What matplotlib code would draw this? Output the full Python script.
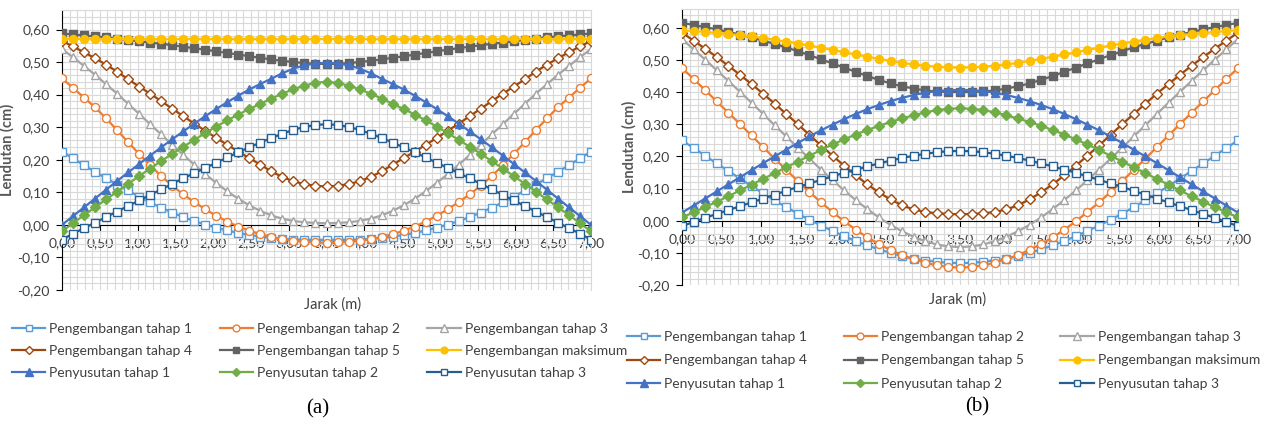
import numpy as np
import matplotlib
matplotlib.use('Agg')
import matplotlib.pyplot as plt
from matplotlib.ticker import MultipleLocator, FuncFormatter

# stations along the beam (m)
jarak = np.linspace(0, 7, 49)

labels = ['Pengembangan tahap 1', 'Pengembangan tahap 2', 'Pengembangan tahap 3',
          'Pengembangan tahap 4', 'Pengembangan tahap 5', 'Pengembangan maksimum',
          'Penyusutan tahap 1', 'Penyusutan tahap 2', 'Penyusutan tahap 3']

# ---- panel (a) deflections (cm)
a_p1 = [0.225, 0.204, 0.183, 0.163, 0.143, 0.124, 0.106, 0.086, 0.069, 0.053, 0.038, 0.024, 0.012, 0.001, -0.009, -0.017, -0.025, -0.031, -0.036, -0.040, -0.043, -0.045, -0.046, -0.047, -0.047,
        -0.047, -0.046, -0.045, -0.043, -0.040, -0.036, -0.031, -0.025, -0.017, -0.009, 0.001, 0.012, 0.024, 0.038, 0.053, 0.069, 0.086, 0.106, 0.124, 0.143, 0.163, 0.183, 0.204, 0.225]
a_p2 = [0.450, 0.421, 0.391, 0.361, 0.327, 0.291, 0.254, 0.218, 0.183, 0.150, 0.120, 0.094, 0.070, 0.048, 0.028, 0.010, -0.005, -0.018, -0.029, -0.037, -0.044, -0.049, -0.052, -0.054, -0.055,
        -0.054, -0.052, -0.049, -0.044, -0.037, -0.029, -0.018, -0.005, 0.010, 0.028, 0.048, 0.070, 0.094, 0.120, 0.150, 0.183, 0.218, 0.254, 0.291, 0.327, 0.361, 0.391, 0.421, 0.450]
a_p3 = [0.540, 0.515, 0.488, 0.461, 0.432, 0.403, 0.372, 0.341, 0.309, 0.278, 0.246, 0.215, 0.185, 0.156, 0.129, 0.103, 0.080, 0.060, 0.043, 0.029, 0.019, 0.012, 0.008, 0.006, 0.005,
        0.006, 0.008, 0.012, 0.019, 0.029, 0.043, 0.060, 0.080, 0.103, 0.129, 0.156, 0.185, 0.215, 0.246, 0.278, 0.309, 0.341, 0.372, 0.403, 0.432, 0.461, 0.488, 0.515, 0.540]
a_p4 = [0.565, 0.548, 0.530, 0.512, 0.492, 0.471, 0.447, 0.425, 0.403, 0.380, 0.357, 0.334, 0.311, 0.289, 0.267, 0.246, 0.225, 0.205, 0.185, 0.164, 0.147, 0.134, 0.125, 0.120, 0.118,
        0.120, 0.125, 0.134, 0.147, 0.164, 0.185, 0.205, 0.225, 0.246, 0.267, 0.289, 0.311, 0.334, 0.357, 0.380, 0.403, 0.425, 0.447, 0.471, 0.492, 0.512, 0.530, 0.548, 0.565]
a_p5 = [0.588, 0.585, 0.582, 0.579, 0.576, 0.572, 0.568, 0.564, 0.560, 0.556, 0.552, 0.547, 0.543, 0.538, 0.533, 0.528, 0.523, 0.518, 0.513, 0.508, 0.504, 0.500, 0.497, 0.495, 0.494,
        0.495, 0.497, 0.500, 0.504, 0.508, 0.513, 0.518, 0.523, 0.528, 0.533, 0.538, 0.543, 0.547, 0.552, 0.556, 0.560, 0.564, 0.568, 0.572, 0.576, 0.579, 0.582, 0.585, 0.588]
a_p6 = [0.570, 0.570, 0.570, 0.570, 0.570, 0.570, 0.570,
        0.570, 0.570, 0.570, 0.570, 0.570, 0.570, 0.570,
        0.570, 0.570, 0.570, 0.570, 0.570, 0.570, 0.570,
        0.570, 0.570, 0.570, 0.570, 0.570, 0.570, 0.570,
        0.570, 0.570, 0.570, 0.570, 0.570, 0.570, 0.570,
        0.570, 0.570, 0.570, 0.570, 0.570, 0.570, 0.570,
        0.570, 0.570, 0.570, 0.570, 0.570, 0.570, 0.570]
a_p7 = [0.000, 0.027, 0.054, 0.081, 0.108, 0.135, 0.161, 0.187, 0.213, 0.238, 0.263, 0.287, 0.311, 0.334, 0.356, 0.377, 0.397, 0.416, 0.433, 0.449, 0.466, 0.480, 0.490, 0.496, 0.498,
        0.496, 0.490, 0.480, 0.466, 0.449, 0.433, 0.416, 0.397, 0.377, 0.356, 0.334, 0.311, 0.287, 0.263, 0.238, 0.213, 0.187, 0.161, 0.135, 0.108, 0.081, 0.054, 0.027, 0.000]
a_p8 = [-0.020, 0.005, 0.030, 0.054, 0.078, 0.102, 0.126, 0.150, 0.173, 0.196, 0.218, 0.240, 0.261, 0.282, 0.302, 0.321, 0.339, 0.356, 0.372, 0.388, 0.403, 0.417, 0.428, 0.436, 0.440,
        0.436, 0.428, 0.417, 0.403, 0.388, 0.372, 0.356, 0.339, 0.321, 0.302, 0.282, 0.261, 0.240, 0.218, 0.196, 0.173, 0.150, 0.126, 0.102, 0.078, 0.054, 0.030, 0.005, -0.020]
a_p9 = [-0.045, -0.027, -0.010, 0.007, 0.024, 0.041, 0.058, 0.075, 0.092, 0.109, 0.126, 0.143, 0.159, 0.175, 0.191, 0.207, 0.223, 0.238, 0.253, 0.267, 0.280, 0.292, 0.301, 0.307, 0.309,
        0.307, 0.301, 0.292, 0.280, 0.267, 0.253, 0.238, 0.223, 0.207, 0.191, 0.175, 0.159, 0.143, 0.126, 0.109, 0.092, 0.075, 0.058, 0.041, 0.024, 0.007, -0.010, -0.027, -0.045]

# ---- panel (b) deflections (cm)
b_p1 = [0.250, 0.226, 0.202, 0.178, 0.155, 0.131, 0.108, 0.085, 0.063, 0.042, 0.022, 0.003, -0.015, -0.032, -0.048, -0.063, -0.077, -0.089, -0.100, -0.110, -0.118, -0.124, -0.128, -0.131, -0.132,
        -0.131, -0.128, -0.124, -0.118, -0.110, -0.100, -0.089, -0.077, -0.063, -0.048, -0.032, -0.015, 0.003, 0.022, 0.042, 0.063, 0.085, 0.108, 0.131, 0.155, 0.178, 0.202, 0.226, 0.250]
b_p2 = [0.475, 0.441, 0.406, 0.371, 0.336, 0.301, 0.265, 0.229, 0.193, 0.158, 0.123, 0.089, 0.057, 0.027, -0.002, -0.028, -0.052, -0.073, -0.091, -0.107, -0.120, -0.131, -0.139, -0.144, -0.146,
        -0.144, -0.139, -0.131, -0.120, -0.107, -0.091, -0.073, -0.052, -0.028, -0.002, 0.027, 0.057, 0.089, 0.123, 0.158, 0.193, 0.229, 0.265, 0.301, 0.336, 0.371, 0.406, 0.441, 0.475]
b_p3 = [0.565, 0.533, 0.501, 0.468, 0.435, 0.401, 0.367, 0.332, 0.297, 0.262, 0.227, 0.193, 0.159, 0.126, 0.094, 0.064, 0.036, 0.010, -0.013, -0.033, -0.050, -0.064, -0.074, -0.080, -0.082,
        -0.080, -0.074, -0.064, -0.050, -0.033, -0.013, 0.010, 0.036, 0.064, 0.094, 0.126, 0.159, 0.193, 0.227, 0.262, 0.297, 0.332, 0.367, 0.401, 0.435, 0.468, 0.501, 0.533, 0.565]
b_p4 = [0.585, 0.560, 0.535, 0.509, 0.482, 0.454, 0.425, 0.395, 0.364, 0.332, 0.300, 0.267, 0.234, 0.202, 0.171, 0.141, 0.113, 0.088, 0.066, 0.048, 0.035, 0.027, 0.023, 0.021, 0.020,
        0.021, 0.023, 0.027, 0.035, 0.048, 0.066, 0.088, 0.113, 0.141, 0.171, 0.202, 0.234, 0.267, 0.300, 0.332, 0.364, 0.395, 0.425, 0.454, 0.482, 0.509, 0.535, 0.560, 0.585]
b_p5 = [0.615, 0.609, 0.602, 0.595, 0.587, 0.579, 0.570, 0.560, 0.550, 0.539, 0.527, 0.515, 0.502, 0.489, 0.476, 0.463, 0.450, 0.438, 0.427, 0.418, 0.411, 0.405, 0.402, 0.400, 0.400,
        0.400, 0.402, 0.405, 0.411, 0.418, 0.427, 0.438, 0.450, 0.463, 0.476, 0.489, 0.502, 0.515, 0.527, 0.539, 0.550, 0.560, 0.570, 0.579, 0.587, 0.595, 0.602, 0.609, 0.615]
b_p6 = [0.592, 0.590, 0.587, 0.584, 0.581, 0.577, 0.573, 0.568, 0.563, 0.557, 0.551, 0.545, 0.538, 0.531, 0.524, 0.517, 0.510, 0.503, 0.497, 0.491, 0.486, 0.482, 0.479, 0.477, 0.476,
        0.477, 0.479, 0.482, 0.486, 0.491, 0.497, 0.503, 0.510, 0.517, 0.524, 0.531, 0.538, 0.545, 0.551, 0.557, 0.563, 0.568, 0.573, 0.577, 0.581, 0.584, 0.587, 0.590, 0.592]
b_p7 = [0.025, 0.047, 0.069, 0.091, 0.113, 0.135, 0.157, 0.179, 0.200, 0.221, 0.242, 0.262, 0.281, 0.299, 0.316, 0.332, 0.347, 0.360, 0.372, 0.382, 0.391, 0.398, 0.403, 0.406, 0.407,
        0.406, 0.403, 0.398, 0.391, 0.382, 0.372, 0.360, 0.347, 0.332, 0.316, 0.299, 0.281, 0.262, 0.242, 0.221, 0.200, 0.179, 0.157, 0.135, 0.113, 0.091, 0.069, 0.047, 0.025]
b_p8 = [0.010, 0.026, 0.042, 0.059, 0.076, 0.094, 0.112, 0.130, 0.148, 0.166, 0.184, 0.202, 0.220, 0.237, 0.253, 0.268, 0.282, 0.295, 0.307, 0.318, 0.328, 0.337, 0.344, 0.348, 0.350,
        0.348, 0.344, 0.337, 0.328, 0.318, 0.307, 0.295, 0.282, 0.268, 0.253, 0.237, 0.220, 0.202, 0.184, 0.166, 0.148, 0.130, 0.112, 0.094, 0.076, 0.059, 0.042, 0.026, 0.010]
b_p9 = [-0.017, -0.004, 0.009, 0.021, 0.033, 0.045, 0.057, 0.069, 0.081, 0.093, 0.105, 0.116, 0.127, 0.138, 0.149, 0.159, 0.169, 0.178, 0.187, 0.195, 0.202, 0.208, 0.213, 0.216, 0.217,
        0.216, 0.213, 0.208, 0.202, 0.195, 0.187, 0.178, 0.169, 0.159, 0.149, 0.138, 0.127, 0.116, 0.105, 0.093, 0.081, 0.069, 0.057, 0.045, 0.033, 0.021, 0.009, -0.004, -0.017]

colors = ['#5B9BD5', '#ED7D31', '#A5A5A5', '#9E480E', '#636363',
          '#FFC000', '#4472C4', '#70AD47', '#255E91']
markers = ['s', 'o', '^', 'D', 's', 'o', '^', 'D', 's']
hollow = [True, True, True, True, False, False, False, False, True]

plt.rcParams['font.family'] = ['Lato', 'DejaVu Sans']
txt = '#404040'
comma = FuncFormatter(lambda v, p: ('%.2f' % v).replace('.', ','))


def panel(ax, series):
    for i, y in enumerate(series):
        ms = {'D': 4.7, '^': 6.0}.get(markers[i], 5.8)
        ax.plot(jarak, y, color=colors[i], lw=1.6, marker=markers[i], ms=ms,
                mfc='white' if hollow[i] else colors[i], mec=colors[i], mew=1.0,
                label=labels[i], zorder=3 + i * 0.01)
    ax.set_xlim(0, 7)
    ax.set_ylim(-0.2, 0.66)
    ax.xaxis.set_major_locator(MultipleLocator(0.5))
    ax.xaxis.set_minor_locator(MultipleLocator(0.1))
    ax.yaxis.set_major_locator(MultipleLocator(0.1))
    ax.yaxis.set_minor_locator(MultipleLocator(0.02))
    ax.xaxis.set_major_formatter(comma)
    ax.yaxis.set_major_formatter(comma)
    ax.grid(which='both', color='#D9D9D9', lw=0.8)
    ax.set_axisbelow(True)
    ax.spines['bottom'].set_position(('data', 0))
    ax.spines['bottom'].set_color('black')
    ax.spines['left'].set_color('black')
    for s in ['top', 'right']:
        ax.spines[s].set_color('#D9D9D9')
    ax.tick_params(which='minor', length=0)
    ax.tick_params(which='major', direction='out', length=4, width=0.8,
                   labelsize=10, labelcolor=txt, pad=5)
    ax.set_ylabel('Lendutan (cm)', fontsize=10.5, fontweight='bold', color='#595959')


def legend(ax, x, y, rowgap, colgap):
    h, l = ax.get_legend_handles_labels()
    order = [0, 3, 6, 1, 4, 7, 2, 5, 8]
    ax.legend([h[k] for k in order], [l[k] for k in order], ncol=3,
              loc='upper left', bbox_to_anchor=(x / 1275, 1 - y / 425),
              bbox_transform=ax.figure.transFigure, frameon=False,
              fontsize=10, labelcolor=txt, handlelength=2.4, handletextpad=0.3,
              labelspacing=rowgap, columnspacing=colgap, borderpad=0,
              borderaxespad=0, numpoints=1, markerscale=0.85)


fig = plt.figure(figsize=(12.75, 4.25), dpi=100)
ax_a = fig.add_axes([62 / 1275, 1 - 290 / 425, 529 / 1275, 280 / 425])
ax_b = fig.add_axes([682 / 1275, 1 - 285 / 425, 556 / 1275, 276.5 / 425])

panel(ax_a, [a_p1, a_p2, a_p3, a_p4, a_p5, a_p6, a_p7, a_p8, a_p9])
panel(ax_b, [b_p1, b_p2, b_p3, b_p4, b_p5, b_p6, b_p7, b_p8, b_p9])
ax_a.yaxis.set_label_coords(-0.089, 0.5)
ax_b.yaxis.set_label_coords(-0.081, 0.5)

legend(ax_a, 12, 323, 0.72, 1.95)
legend(ax_b, 627, 331, 0.82, 2.6)

fig.text(333 / 1275, 1 - 305 / 425, 'Jarak (m)', ha='center', va='center', fontsize=10.5, color=txt)
fig.text(958 / 1275, 1 - 300 / 425, 'Jarak (m)', ha='center', va='center', fontsize=10.5, color=txt)
fig.text(318 / 1275, 1 - 409 / 425, '(a)', ha='center', va='center', fontsize=15,
         family='Liberation Serif', color='black')
fig.text(977 / 1275, 1 - 407 / 425, '(b)', ha='center', va='center', fontsize=15,
         family='Liberation Serif', color='black')

fig.savefig('out.png', dpi=100)
